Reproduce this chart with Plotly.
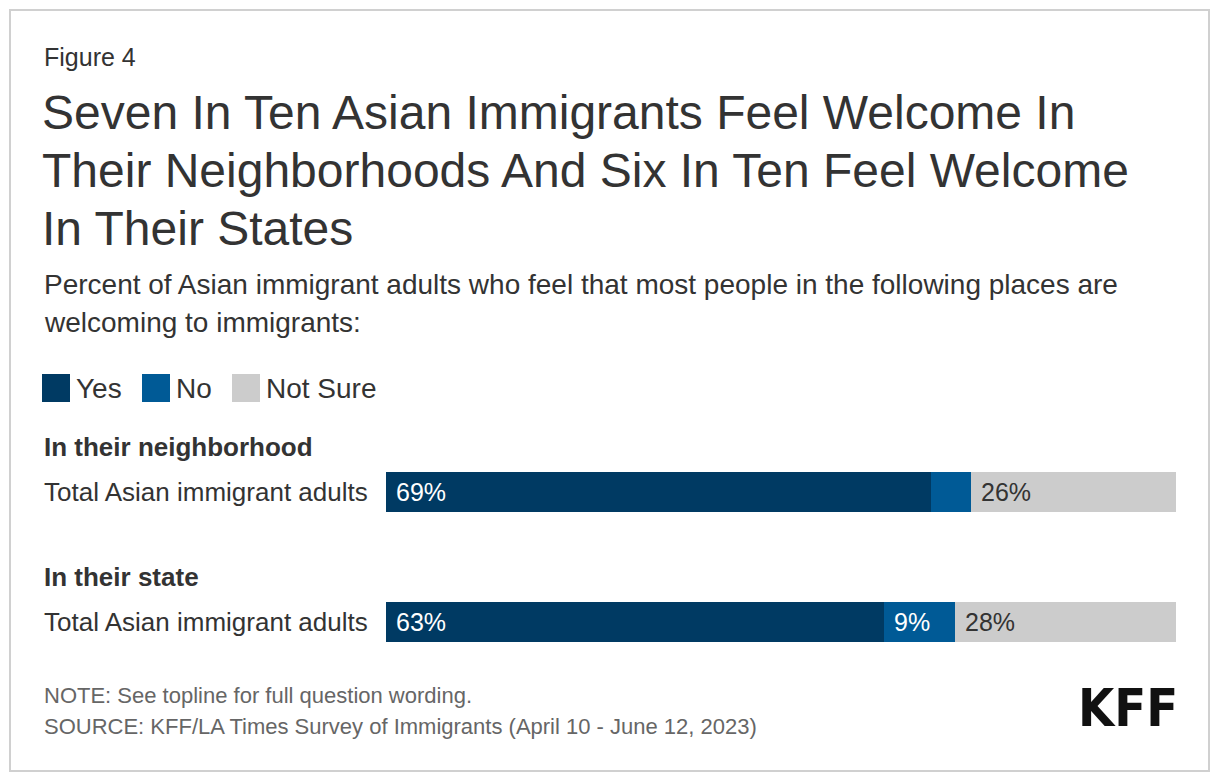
import plotly.graph_objects as go

# ---------------- data ----------------
groups = ["In their neighborhood", "In their state"]
row_label = "Total Asian immigrant adults"
series_names = ["Yes", "No", "Not Sure"]
yes_vals = [69, 63]
no_vals = [5, 9]
not_sure_vals = [26, 28]

figure_label = "Figure 4"
title_lines = [
    "Seven In Ten Asian Immigrants Feel Welcome In",
    "Their Neighborhoods And Six In Ten Feel Welcome",
    "In Their States",
]
subtitle_lines = [
    "Percent of Asian immigrant adults who feel that most people in the following places are",
    "welcoming to immigrants:",
]
note_text = "NOTE: See topline for full question wording."
source_text = "SOURCE: KFF/LA Times Survey of Immigrants (April 10 - June 12, 2023)"

# ---------------- style ----------------
W, H = 1220, 784
FONT = "Liberation Sans, Arial, Helvetica, sans-serif"
TXT = "#333333"
colors = ["#003a63", "#005a96", "#cccccc"]
label_colors = ["#ffffff", "#ffffff", "#333333"]


def px(x):
    return x / W


def py(y):
    return 1 - y / H


series_vals = [yes_vals, no_vals, not_sure_vals]

fig = go.Figure()
for name, vals, col in zip(series_names, series_vals, colors):
    fig.add_trace(go.Bar(
        y=groups, x=vals, name=name, orientation="h",
        marker=dict(color=col, line=dict(width=0)),
        width=40 / 130, showlegend=False, hoverinfo="x+name",
    ))

annotations = []
# value labels inside segments
for gi, g in enumerate(groups):
    base = 0
    for si, vals in enumerate(series_vals):
        v = vals[gi]
        if v >= 7:
            annotations.append(dict(
                x=base, y=g, xref="x", yref="y", text=f"{v}%",
                xanchor="left", yanchor="middle", xshift=8, showarrow=False,
                font=dict(family=FONT, size=25, color=label_colors[si]),
            ))
        base += v
    # group header and row label
    annotations.append(dict(
        x=px(42), y=g, xref="paper", yref="y", text=f"<b>{g}</b>",
        xanchor="left", yanchor="middle", yshift=45, showarrow=False,
        font=dict(family=FONT, size=26, color=TXT),
    ))
    annotations.append(dict(
        x=px(42), y=g, xref="paper", yref="y", text=row_label,
        xanchor="left", yanchor="middle", showarrow=False,
        font=dict(family=FONT, size=26, color=TXT),
    ))

# figure label, title, subtitle
annotations.append(dict(x=px(42), y=py(57), xref="paper", yref="paper",
                        text=figure_label, xanchor="left", yanchor="middle",
                        showarrow=False, font=dict(family=FONT, size=25, color=TXT)))
for line, yc in zip(title_lines, [113, 170, 228]):
    annotations.append(dict(x=px(40), y=py(yc), xref="paper", yref="paper",
                            text=line, xanchor="left", yanchor="middle",
                            showarrow=False, font=dict(family=FONT, size=48, color=TXT)))
for line, yc in zip(subtitle_lines, [285, 322]):
    annotations.append(dict(x=px(42), y=py(yc), xref="paper", yref="paper",
                            text=line, xanchor="left", yanchor="middle",
                            showarrow=False, font=dict(family=FONT, size=28, color=TXT)))

# legend (manual)
shapes = []
legend_x = [42, 142, 232]
for name, col, lx in zip(series_names, colors, legend_x):
    shapes.append(dict(type="rect", xref="paper", yref="paper",
                       x0=px(lx), x1=px(lx + 28), y0=py(402), y1=py(374),
                       fillcolor=col, line=dict(width=0)))
    annotations.append(dict(x=px(lx + 32), y=py(388), xref="paper", yref="paper",
                            text=name, xanchor="left", yanchor="middle",
                            showarrow=False, font=dict(family=FONT, size=28, color=TXT)))

# notes
annotations.append(dict(x=px(42), y=py(695), xref="paper", yref="paper",
                        text=note_text, xanchor="left", yanchor="middle",
                        showarrow=False, font=dict(family=FONT, size=22, color="#666666")))
annotations.append(dict(x=px(42), y=py(726), xref="paper", yref="paper",
                        text=source_text, xanchor="left", yanchor="middle",
                        showarrow=False, font=dict(family=FONT, size=22, color="#666666")))
# logo
annotations.append(dict(x=px(1180), y=py(708), xref="paper", yref="paper",
                        text="<b>KFF</b>", xanchor="right", yanchor="middle",
                        showarrow=False,
                        font=dict(family="Liberation Sans Narrow, DejaVu Sans Condensed, Arial Narrow, sans-serif",
                                  size=52, color="#111111")))

# outer border
shapes.append(dict(type="rect", xref="paper", yref="paper",
                   x0=px(10), x1=px(1209), y0=py(771), y1=py(10),
                   line=dict(color="#d0d0d0", width=2), fillcolor="rgba(0,0,0,0)"))

fig.update_layout(
    width=W, height=H,
    margin=dict(l=0, r=0, t=0, b=0),
    paper_bgcolor="white", plot_bgcolor="white",
    barmode="stack",
    xaxis=dict(domain=[px(386), px(1176)], range=[0, 100], visible=False, fixedrange=True),
    yaxis=dict(domain=[py(687), py(427)], type="category", categoryarray=groups,
               range=[1.5, -0.5], visible=False, fixedrange=True),
    annotations=annotations,
    shapes=shapes,
    showlegend=False,
)

fig.write_html("out.html", config={"displayModeBar": False},
               post_script="document.body.style.margin='0';")
